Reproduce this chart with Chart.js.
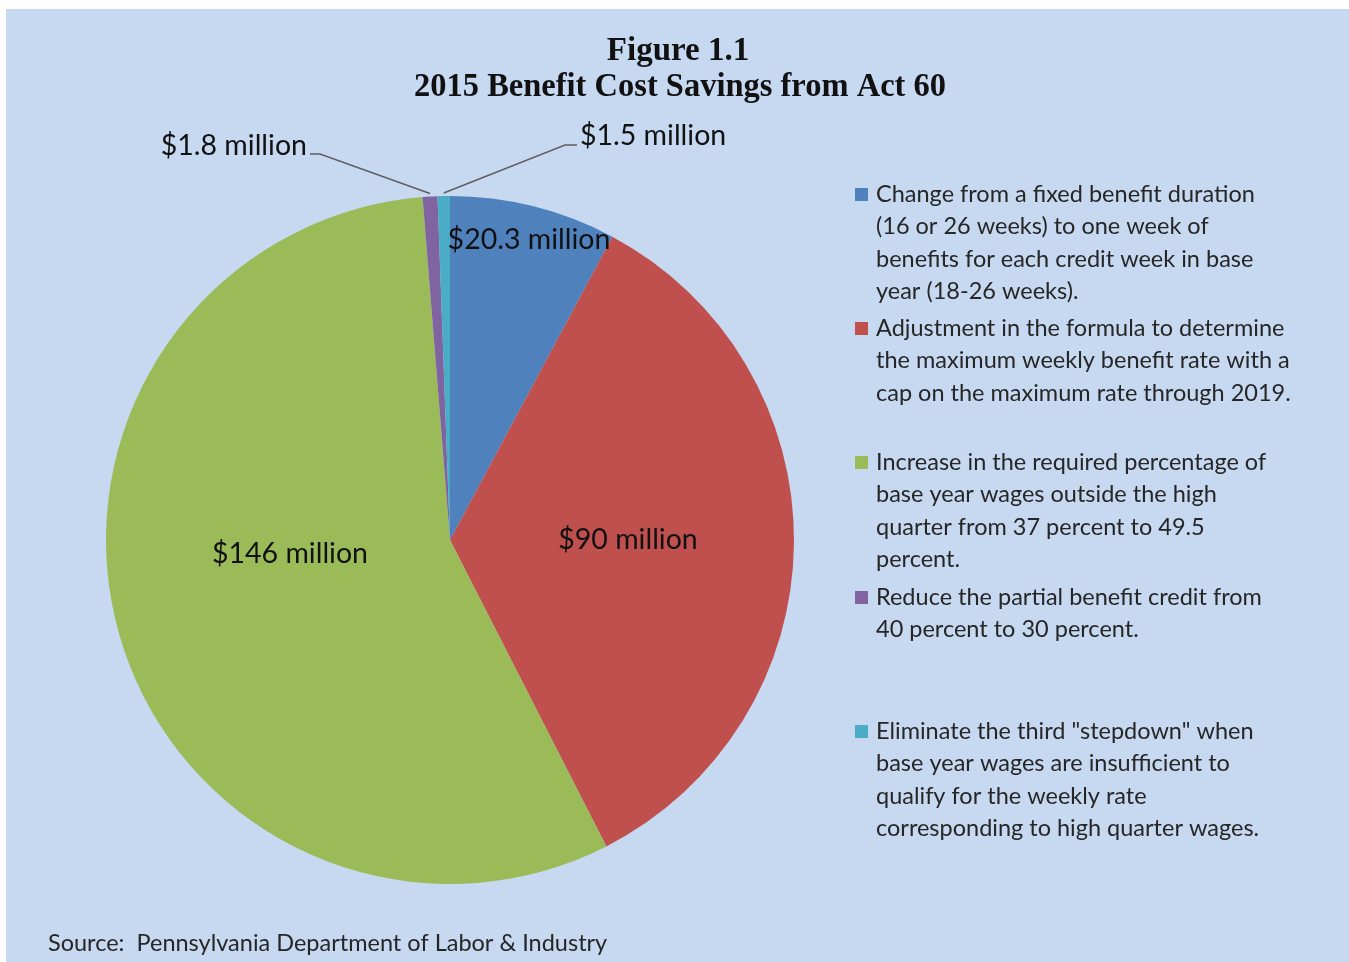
<!DOCTYPE html>
<html>
<head>
<meta charset="utf-8">
<script src="https://cdn.jsdelivr.net/npm/chart.js@4"></script>
<style>
  html, body { margin: 0; padding: 0; background: #fff; }
  canvas { display: block; }
</style>
</head>
<body>
<canvas id="pie" width="1349" height="962"></canvas>
<script>
// slices, clockwise from 12 o'clock
const categories = [
  ['Change from a fixed benefit duration', '(16 or 26 weeks) to one week of', 'benefits for each credit week in base', 'year (18-26 weeks).'],
  ['Adjustment in the formula to determine', 'the maximum weekly benefit rate with a', 'cap on the maximum rate through 2019.'],
  ['Increase in the required percentage of', 'base year wages outside the high', 'quarter from 37 percent to 49.5', 'percent.'],
  ['Reduce the partial benefit credit from', '40 percent to 30 percent.'],
  ['Eliminate the third "stepdown" when', 'base year wages are insufficient to', 'qualify for the weekly rate', 'corresponding to high quarter wages.']
];
const savings = [20.3, 90, 146, 1.8, 1.5];          // $ million
const valueLabels = ['$20.3 million', '$90 million', '$146 million', '$1.8 million', '$1.5 million'];
const colors = ['#4F81BD', '#C0504D', '#9BBB59', '#8064A2', '#4BACC6'];
const titleLines = ['Figure 1.1', '2015 Benefit Cost Savings from Act 60'];
const sourceNote = 'Source:  Pennsylvania Department of Labor & Industry';

const BODY_FONT = '"Lato", "Open Sans", sans-serif';
const TEXT = '#262626';

// where the legend items start (text middle of first line)
const legendTop = [194, 328, 462, 597, 731];

// label offsets from pie centre for the big slices, leader setup for the small ones
const inLabel = { 0: [79, -300], 1: [178, 0], 2: [-160, 14] };
const outLabel = {
  3: { elbow: [-130, -386], text: [-143, -394], align: 'right' },
  4: { elbow: [115, -395], text: [130, -404], align: 'left' }
};

const decor = {
  id: 'decor',
  beforeDraw(chart) {
    const c = chart.ctx;
    c.save();
    c.fillStyle = '#C6D9F1';
    c.fillRect(6, 9, chart.width - 6, chart.height - 9);
    c.restore();
  },
  afterDraw(chart) {
    const c = chart.ctx;
    const arcs = chart.getDatasetMeta(0).data;
    const cx = arcs[0].x, cy = arcs[0].y;
    c.save();

    // title
    c.fillStyle = '#111';
    c.textAlign = 'center';
    c.textBaseline = 'alphabetic';
    c.font = 'bold 33px "Liberation Serif", serif';
    c.fillText(titleLines[0], 678, 60);
    c.fillText(titleLines[1], 680, 96, 532);

    // labels inside
    c.font = '28.5px ' + BODY_FONT;
    c.textBaseline = 'middle';
    Object.keys(inLabel).forEach(i => {
      c.fillStyle = '#111';
      c.fillText(valueLabels[i], cx + inLabel[i][0], cy + inLabel[i][1]);
    });

    // small slices with leader lines
    Object.keys(outLabel).forEach(i => {
      const a = arcs[i];
      const mid = (a.startAngle + a.endAngle) / 2;
      const px = cx + Math.cos(mid) * a.outerRadius;
      const py = cy + Math.sin(mid) * a.outerRadius - 3;
      const o = outLabel[i];
      const ex = cx + o.elbow[0], ey = cy + o.elbow[1];
      const tx = cx + o.text[0], ty = cy + o.text[1];
      c.strokeStyle = '#5f5f5f';
      c.lineWidth = 1.5;
      c.beginPath();
      c.moveTo(px, py);
      c.lineTo(ex, ey);
      c.lineTo(o.align === 'right' ? tx + 3 : tx - 3, ey);
      c.stroke();
      c.fillStyle = '#111';
      c.textAlign = o.align;
      c.fillText(valueLabels[i], tx, ty);
    });

    // legend
    c.font = '23.5px ' + BODY_FONT;
    c.textAlign = 'left';
    categories.forEach((lines, i) => {
      const y0 = legendTop[i];
      c.fillStyle = colors[i];
      c.fillRect(855, y0 - 6, 13, 13);
      c.fillStyle = TEXT;
      lines.forEach((ln, k) => c.fillText(ln, 876, y0 + k * 32.5));
    });

    // source
    c.font = '23.5px ' + BODY_FONT;
    c.fillStyle = TEXT;
    c.fillText(sourceNote, 48, 943);
    c.restore();
  }
};

new Chart(document.getElementById('pie'), {
  type: 'pie',
  data: {
    labels: categories.map(l => l.join(' ')),
    datasets: [{
      data: savings,
      backgroundColor: colors,
      borderWidth: 0
    }]
  },
  options: {
    responsive: false,
    animation: false,
    layout: { padding: { left: 106, right: 555, top: 196, bottom: 78 } },
    plugins: {
      legend: { display: false },
      title: { display: false },
      tooltip: { enabled: false }
    }
  },
  plugins: [decor]
});
</script>
</body>
</html>
